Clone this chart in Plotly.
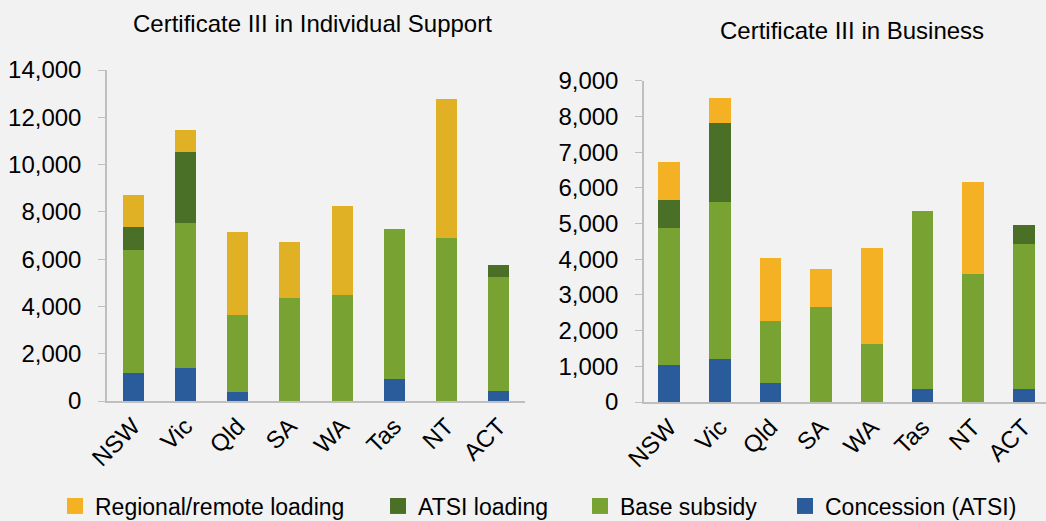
import plotly.graph_objects as go

states = ["NSW", "Vic", "Qld", "SA", "WA", "Tas", "NT", "ACT"]

# Certificate III in Individual Support
is_concession = [1190, 1410, 380, 0, 0, 920, 0, 440]
is_base = [5190, 6110, 3250, 4360, 4470, 6350, 6900, 4810]
is_atsi = [990, 3010, 0, 0, 0, 0, 0, 490]
is_regional = [1330, 930, 3510, 2370, 3790, 0, 5870, 0]

# Certificate III in Business
bus_concession = [1050, 1210, 540, 0, 0, 355, 0, 365]
bus_base = [3820, 4390, 1740, 2670, 1630, 5000, 3585, 4060]
bus_atsi = [780, 2210, 0, 0, 0, 0, 0, 540]
bus_regional = [1070, 700, 1765, 1055, 2670, 0, 2570, 0]

series_names = ["Concession (ATSI)", "Base subsidy", "ATSI loading", "Regional/remote loading"]
colors_left = ["#2A5B9B", "#78A232", "#4A7028", "#E0B124"]
colors_right = ["#2A5B9B", "#78A232", "#4A7028", "#F4B123"]

legend_order = ["Regional/remote loading", "ATSI loading", "Base subsidy", "Concession (ATSI)"]
legend_colors = ["#F4B123", "#4A7028", "#78A232", "#2A5B9B"]
legend_text_x = [95, 418, 620, 825]  # where each legend label begins (px)

W, H = 1046, 521
FONT = "Liberation Sans, Arial, sans-serif"
fig = go.Figure()

left_data = [is_concession, is_base, is_atsi, is_regional]
right_data = [bus_concession, bus_base, bus_atsi, bus_regional]

for name, vals, c in zip(series_names, left_data, colors_left):
    fig.add_trace(go.Bar(x=states, y=vals, name=name, marker_color=c,
                         marker_line_width=0, width=0.4,
                         xaxis="x", yaxis="y", showlegend=False))
for name, vals, c in zip(series_names, right_data, colors_right):
    fig.add_trace(go.Bar(x=states, y=vals, name=name, marker_color=c,
                         marker_line_width=0, width=0.43,
                         xaxis="x2", yaxis="y2", showlegend=False))

# legend entries (one legend per entry so each can be placed like the original)
legend_ids = ["legend", "legend2", "legend3", "legend4"]
for name, c, lid in zip(legend_order, legend_colors, legend_ids):
    fig.add_trace(go.Scatter(x=[None], y=[None], mode="markers", name=name,
                             marker=dict(symbol="square", size=16, color=c),
                             xaxis="x2", yaxis="y2", showlegend=True, legend=lid,
                             hoverinfo="skip"))

legend_font = dict(family=FONT, size=23, color="#000")
legends = {}
for lid, tx in zip(legend_ids, legend_text_x):
    legends[lid] = dict(orientation="h", x=(tx - 40) / W, xanchor="left",
                        y=(H - 506) / H, yanchor="middle", font=legend_font,
                        bgcolor="rgba(0,0,0,0)", borderwidth=0, itemwidth=30)

axis_font = dict(family=FONT, size=24, color="#000000")
xcommon = dict(type="category", tickangle=-45, tickfont=dict(family=FONT, size=24, color="#000"),
               showline=True, linecolor="#BFBFBF", linewidth=1.5, ticks="", showgrid=False, zeroline=False,
               automargin=False)
ycommon = dict(tickformat=",", tickfont=axis_font, showline=True, linecolor="#BFBFBF", linewidth=1.5,
               ticks="outside", ticklen=7, tickcolor="#BFBFBF", showgrid=False, zeroline=False,
               ticklabelstandoff=12, automargin=False)

fig.update_layout(
    width=W, height=H,
    barmode="stack",
    paper_bgcolor="#F2F2F2", plot_bgcolor="#F2F2F2",
    margin=dict(l=0, r=0, t=0, b=0, autoexpand=False),
    font=dict(family=FONT, color="#000"),
    xaxis=dict(domain=[107 / W, 525 / W], range=[-0.5, 7.5], anchor="y", **xcommon),
    yaxis=dict(domain=[(H - 401) / H, (H - 70) / H], range=[0, 14000], dtick=2000, anchor="x", **ycommon),
    xaxis2=dict(domain=[644 / W, 1.0], range=[-0.5, 7.44], anchor="y2", **xcommon),
    yaxis2=dict(domain=[(H - 402) / H, (H - 80.7) / H], range=[0, 9000], dtick=1000, anchor="x2", **ycommon),
    annotations=[
        dict(text="Certificate III in Individual Support", x=312 / W, y=(H - 24) / H, xref="paper", yref="paper",
             showarrow=False, xanchor="center", yanchor="middle",
             font=dict(family=FONT, size=24, color="#000")),
        dict(text="Certificate III in Business", x=852 / W, y=(H - 30) / H, xref="paper", yref="paper",
             showarrow=False, xanchor="center", yanchor="middle",
             font=dict(family=FONT, size=24, color="#000")),
    ],
    **legends,
)

fig.write_html("out.html", config={"displayModeBar": False},
               post_script="document.body.style.margin='0';document.body.style.overflow='hidden';")
